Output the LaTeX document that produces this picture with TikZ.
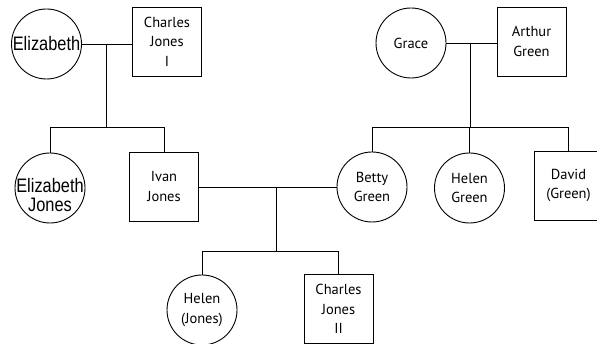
\documentclass[tikz,border=0pt]{standalone}
\usepackage{fontspec}
\setmainfont{PT Sans}
\newfontfamily\arialf{Liberation Sans}
\newcommand{\narrowtxt}[1]{\makebox[0pt]{\scalebox{0.84}[1]{#1}}}
\begin{document}
\begin{tikzpicture}[x=1pt,y=1pt,
  every node/.style={inner sep=0pt, align=center, font=\fontsize{14.5}{19.5}\selectfont},
  fem/.style={draw, line width=0.9pt, circle, minimum size=70pt},
  mal/.style={draw, line width=0.9pt, rectangle, minimum width=69pt, minimum height=69pt},
  link/.style={line width=0.9pt},
  elz/.style={font=\arialf\fontsize{19.5}{19.5}\selectfont}
]
\useasboundingbox (0,0) rectangle (597,344);
% generation 1
\node[fem, elz] (eliz) at (46.5,300) {\narrowtxt{Elizabeth}};
\node[mal] (cj1) at (167,302.5) {Charles\\Jones\\I};
\node[fem] (grace) at (411,301) {Grace};
\node[mal] (arthur) at (531.5,302.5) {Arthur\\Green};
% generation 2
\node[fem, elz] (ejones) at (50,156) {\rule{0pt}{28pt}\narrowtxt{Elizabeth}\\\narrowtxt{Jones}};
\node[mal] (ivan) at (164,157.5) {Ivan\\Jones};
\node[fem] (betty) at (372,157) {Betty\\Green};
\node[fem] (heleng) at (469.5,156) {Helen\\Green};
\node[mal] (david) at (568.5,158.5) {David\\(Green)};
% generation 3
\node[fem] (helenj) at (202,34) {Helen\\(Jones)};
\node[mal] (cj2) at (338.5,35) {Charles\\Jones\\II};
% couple 1
\draw[link] (eliz.east) -- (cj1.west |- eliz.east);
\coordinate (m1) at (106,300);
\coordinate (b1) at (106,216.3);
\draw[link] (m1) -- (b1);
\draw[link] (ejones.north) -- (ejones.north |- b1) -- (ivan.north |- b1) -- (ivan.north);
% couple 2
\draw[link] (grace.east) -- (arthur.west |- grace.east);
\coordinate (m2) at (470,301);
\coordinate (b2) at (470,216.3);
\draw[link] (m2) -- (b2);
\draw[link] (betty.north) -- (betty.north |- b2) -- (david.north |- b2) -- (david.north);
\draw[link] (heleng.north) -- (heleng.north |- b2);
% couple 3
\draw[link] (ivan.east |- betty.west) -- (betty.west);
\coordinate (m3) at (276.7,157);
\coordinate (b3) at (276.7,93);
\draw[link] (m3) -- (b3);
\draw[link] (helenj.north) -- (helenj.north |- b3) -- (cj2.north |- b3) -- (cj2.north);
\end{tikzpicture}
\end{document}
